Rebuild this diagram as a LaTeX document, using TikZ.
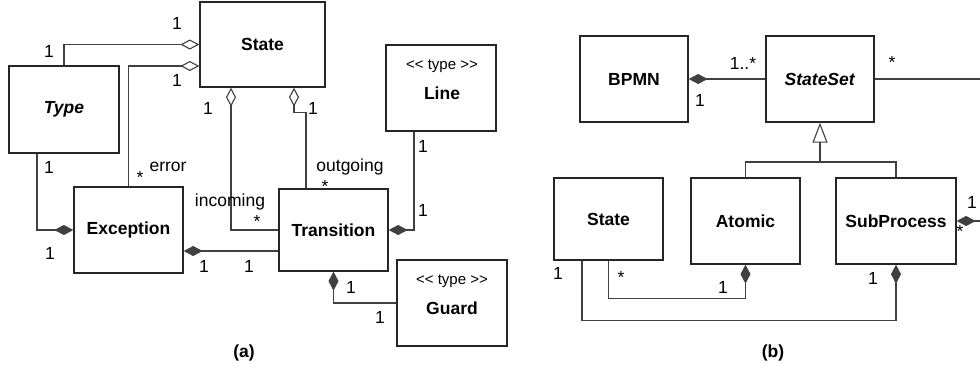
\documentclass[tikz,border=0pt]{standalone}
\usepackage{fontspec}
\setmainfont{Liberation Sans}
\newfontfamily\stereofont{Liberation Sans}
\usetikzlibrary{arrows.meta,calc}
\newcommand{\fsz}{\fontsize{17.5}{21}\selectfont}
\begin{document}
\begin{tikzpicture}[x=1pt,y=-1pt,
  box/.style={draw=black!85,line width=1.3pt,rectangle,inner sep=0pt,font=\fsz\bfseries},
  conn/.style={draw=black!75,line width=1.1pt},
  agg/.style={conn,{Diamond[open,length=19pt,width=10pt]}-},
  comp/.style={conn,{Diamond[length=19pt,width=10pt]}-},
  gen/.style={conn,{Triangle[open,length=20pt,width=15pt]}-},
  lbl/.style={inner sep=0pt,font=\fsz},
  stereo/.style={inner sep=0pt,font=\stereofont\fontsize{15}{18}\selectfont},
  title/.style={inner sep=0pt,font=\fsz\bfseries}
]
\useasboundingbox (0,0) rectangle (980,373);

% ---------- panel (a) ----------
\node[box,minimum width=125pt,minimum height=85pt] (state) at (262.5,44.5) {State};
\node[box,minimum width=110pt,minimum height=87pt] (type) at (64,109.5) {\textit{Type}};
\node[box,minimum width=109pt,minimum height=86pt] (exc) at (128.5,230) {Exception};
\node[box,minimum width=109pt,minimum height=82pt] (trans) at (333.5,230) {Transition};
\node[box,minimum width=110pt,minimum height=86pt] (line) at (441,88) {};
\node[box,minimum width=110pt,minimum height=86pt] (guard) at (452,303) {};
\node[stereo] (linest) at (442,66) {<< type >>};
\node[title] (linet) at (442,93) {Line};
\node[stereo] (guardst) at (452,281) {<< type >>};
\node[title] (guardt) at (452,308) {Guard};

\draw[agg] (state.west) -| (type.north);
\draw[agg] ([yshift=-21.5pt]state.west) -| (exc.north);
\draw[agg] ([xshift=-31.5pt]state.south) |- (trans.west);
\draw[agg] ([xshift=31.5pt]state.south) -- ++(0,25) -| ([xshift=-27.5pt]trans.north);
\draw[comp] (trans.east) -| ([xshift=-27pt]line.south);
\draw[comp] (exc.west) -| ([xshift=-27pt]type.south);
\draw[comp] ([yshift=-21pt]exc.east) -- ([yshift=-21pt]exc.east -| trans.west);
\draw[comp] (trans.south) |- (guard.west);

\node[lbl] (l1) at (177,23) {1};
\node[lbl] (l2) at (49,51) {1};
\node[lbl] (l3) at (177,80) {1};
\node[lbl] (l4) at (208,108) {1};
\node[lbl] (l5) at (49,167) {1};
\node[lbl] (l6) at (140,177) {*};
\node[lbl] (l7) at (168,167) {error};
\node[lbl] (l8) at (230,202) {incoming};
\node[lbl] (l9) at (257,221) {*};
\node[lbl] (l10) at (50,253) {1};
\node[lbl] (l11) at (204,266) {1};
\node[lbl] (l12) at (249,266) {1};
\node[lbl] (l13) at (313,108) {1};
\node[lbl] (l14) at (350,167) {outgoing};
\node[lbl] (l15) at (325,186) {*};
\node[lbl] (l16) at (423,146) {1};
\node[lbl] (l17) at (423,210) {1};
\node[lbl] (l18) at (351,287) {1};
\node[lbl] (l19) at (380,317) {1};
\node[title] (capa) at (244,353) {(a)};

% ---------- panel (b) ----------
\node[box,minimum width=108pt,minimum height=86pt] (bpmn) at (634,79) {BPMN};
\node[box,minimum width=108pt,minimum height=86pt] (stateset) at (820,79) {\textit{StateSet}};
\node[box,minimum width=109pt,minimum height=82pt] (stateb) at (608.5,219) {State};
\node[box,minimum width=109pt,minimum height=86pt] (atomic) at (745.5,221) {Atomic};
\node[box,minimum width=120pt,minimum height=86pt] (subp) at (896,221) {SubProcess};
\coordinate (edge1) at (981,79);
\coordinate (edge2) at (981,221);
\coordinate (gj) at (820,162);

\draw[comp] (bpmn.east) -- (stateset.west);
\draw[conn] (stateset.east) -- (edge1);
\draw[gen] (stateset.south) -- (gj);
\draw[conn] (atomic.north) |- (gj) -| (subp.north);
\draw[comp] (atomic.south) -- ++(0,34) -| (stateb.south);
\draw[comp] (subp.south) -- ++(0,56) -| ([xshift=-26.5pt]stateb.south);
\draw[comp] (subp.east) -- (edge2);

\node[lbl] (m1) at (743,63) {1..*};
\node[lbl] (m2) at (700,100) {1};
\node[lbl] (m3) at (892,62) {*};
\node[lbl] (m4) at (558,273) {1};
\node[lbl] (m5) at (621,277) {*};
\node[lbl] (m6) at (723,287) {1};
\node[lbl] (m7) at (873,278) {1};
\node[lbl] (m8) at (972,202) {1};
\node[lbl] (m9) at (960,231) {*};
\node[title] (capb) at (773,353) {(b)};
\end{tikzpicture}
\end{document}
